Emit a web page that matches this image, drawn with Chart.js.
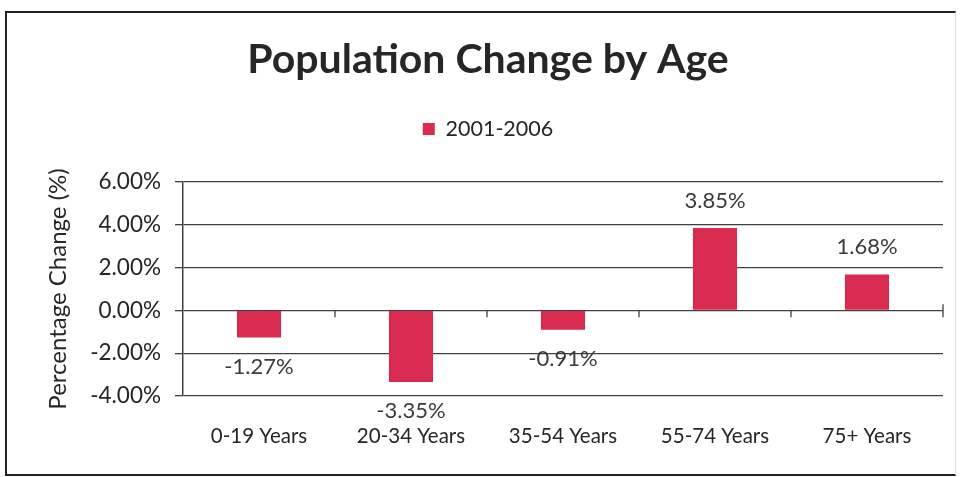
<!DOCTYPE html>
<html>
<head>
<meta charset="utf-8">
<script src="https://cdn.jsdelivr.net/npm/chart.js@4"></script>
<style>
  html, body { margin: 0; padding: 0; background: #fff; }
  #wrap { position: relative; width: 961px; height: 477px; }
  #frame {
    position: absolute; left: 5px; top: 11px; width: 948px; height: 461px;
    border-left: 2px solid #222; border-top: 2px solid #222; border-bottom: 2px solid #222;
    border-right: 1px solid #ddd; pointer-events: none;
  }
</style>
</head>
<body>
<div id="wrap">
  <canvas id="c" width="961" height="477"></canvas>
  <div id="frame"></div>
</div>
<script>
const categories = ["0-19 Years", "20-34 Years", "35-54 Years", "55-74 Years", "75+ Years"];
const change2001_2006 = [-1.27, -3.35, -0.91, 3.85, 1.68];
const yTicks = [-4, -2, 0, 2, 4, 6];

const textCol = "#262626";
const barCol = "#d92b4f";
const fontFam = "Lato, 'Open Sans', sans-serif";

// labels on bars, like excel data labels
const barLabels = {
  id: "barLabels",
  afterDatasetsDraw(chart) {
    const ctx = chart.ctx;
    const meta = chart.getDatasetMeta(0);
    ctx.save();
    ctx.font = "22px " + fontFam;
    ctx.fillStyle = "#3a3a3a";
    ctx.textAlign = "center";
    ctx.textBaseline = "middle";
    meta.data.forEach((bar, i) => {
      const v = change2001_2006[i];
      const y = v >= 0 ? bar.y - 27 : bar.y + 29;
      ctx.fillText(v.toFixed(2) + "%", bar.x, y);
    });
    ctx.restore();
  }
};

// little tick marks on the zero line between categories
const zeroTicks = {
  id: "zeroTicks",
  afterDraw(chart) {
    const x = chart.scales.x, y = chart.scales.y;
    const y0 = y.getPixelForValue(0);
    const step = (x.right - x.left) / categories.length;
    const ctx = chart.ctx;
    ctx.save();
    ctx.strokeStyle = "#404040";
    ctx.lineWidth = 1.3;
    for (let i = 1; i <= categories.length; i++) {
      const px = Math.round(x.left + i * step);
      ctx.beginPath();
      ctx.moveTo(px, i === categories.length ? y0 - 6 : y0);
      ctx.lineTo(px, y0 + 7);
      ctx.stroke();
    }
    ctx.restore();
  }
};

new Chart(document.getElementById("c"), {
  type: "bar",
  data: {
    labels: categories,
    datasets: [{
      label: "2001-2006",
      data: change2001_2006,
      backgroundColor: barCol,
      borderWidth: 0,
      barPercentage: 0.29,
      categoryPercentage: 1
    }]
  },
  options: {
    responsive: false,
    animation: false,
    layout: { padding: { left: 33, right: 18, top: 0, bottom: 0 } },
    plugins: {
      title: {
        display: true,
        text: "Population Change by Age",
        color: textCol,
        font: { family: fontFam, size: 41, weight: "bold" },
        padding: { top: 35, bottom: 22 }
      },
      // empty subtitle used as a spacer under the legend
      subtitle: {
        display: true,
        text: " ",
        weight: 500,
        font: { size: 1 },
        padding: { top: 0, bottom: 31 }
      },
      legend: {
        position: "top",
        labels: {
          color: textCol,
          boxWidth: 12,
          boxHeight: 12,
          padding: 12,
          font: { family: fontFam, size: 21.5 }
        }
      },
      tooltip: { enabled: false }
    },
    scales: {
      x: {
        grid: { display: false },
        border: { display: false },
        ticks: {
          color: textCol,
          padding: 20,
          font: { family: fontFam, size: 20.5 }
        },
        afterFit(scale) { scale.height = 81; }
      },
      y: {
        min: -4,
        max: 6,
        afterBuildTicks(scale) { scale.ticks = yTicks.map(v => ({ value: v })); },
        grid: { color: "#404040", lineWidth: 1.3, tickLength: 8 },
        border: { color: "#404040", width: 1.5 },
        ticks: {
          color: textCol,
          padding: 14,
          font: { family: fontFam, size: 22.5 },
          callback: v => v.toFixed(2) + "%"
        },
        title: {
          display: true,
          text: "Percentage Change (%)",
          color: textCol,
          padding: { top: 11, bottom: 0 },
          font: { family: fontFam, size: 24 }
        },
        afterFit(scale) { scale.width = 150; }
      }
    }
  },
  plugins: [barLabels, zeroTicks]
});
</script>
</body>
</html>
